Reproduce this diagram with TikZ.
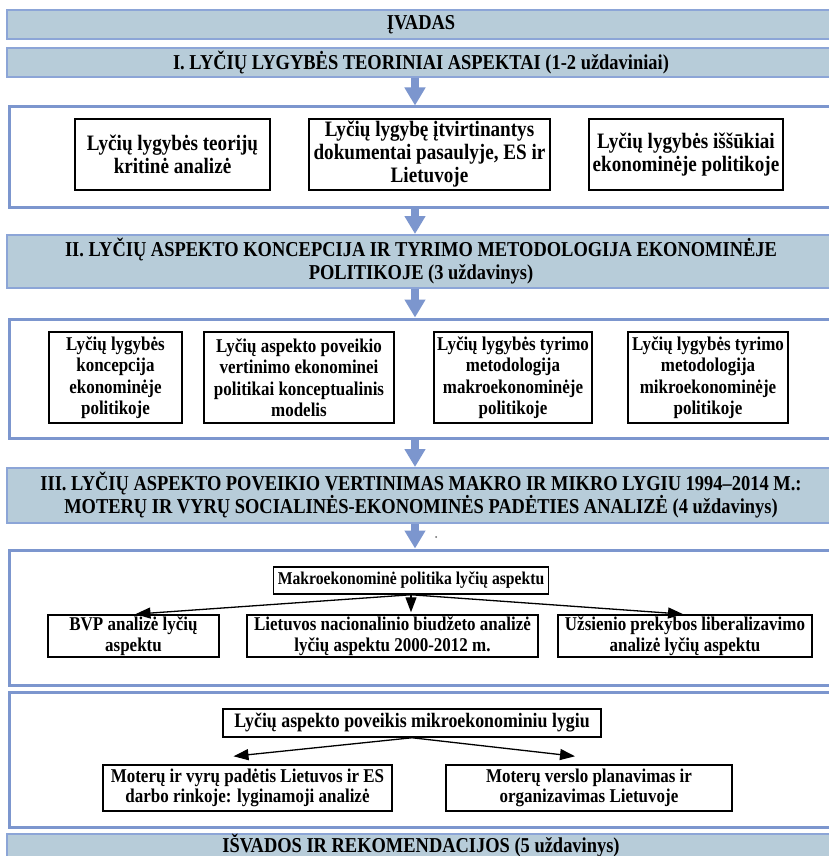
\documentclass[tikz,border=0pt]{standalone}
\usepackage{fontspec}
\setmainfont{Liberation Serif}[FakeStretch=0.87]
\usetikzlibrary{arrows.meta,calc}

\definecolor{bannerfill}{RGB}{183,204,217}
\definecolor{bannerline}{RGB}{140,165,215}
\definecolor{panelline}{RGB}{124,150,206}

\newcommand{\bannerfont}{\fontsize{21.2}{23}\selectfont\bfseries}
\newcommand{\topicfont}{\fontsize{19.5}{20.5}\selectfont\bfseries}
\newcommand{\bigtopicfont}{\fontsize{22}{23}\selectfont\bfseries}

\tikzset{
  banner/.style={draw=bannerline, line width=2pt, fill=bannerfill, font=\bannerfont, align=center, inner sep=0pt, minimum width=828pt},
  panel/.style={draw=panelline, line width=3pt, fill=white, inner sep=0pt, minimum width=825pt},
  topic/.style={draw=black, line width=1.5pt, fill=white, font=\topicfont, align=center, inner sep=0pt},
  bigarrow/.style={draw=panelline, line width=8pt, -{Triangle[width=20pt,length=18pt]}},
  smallarrow/.style={draw=black, line width=1.3pt, -{Triangle[width=11pt,length=15pt]}},
}

\begin{document}
\begin{tikzpicture}[x=1pt,y=1pt,yscale=-1,xscale=1]
\clip (0,0) rectangle (829,856);
\fill[white] (0,0) rectangle (829,856);
\coordinate (mid) at (415,0);

%Shape: Banners
\node[banner, minimum height=29pt] (ivadas) at (421,24.5) {ĮVADAS};
\node[banner, minimum height=29pt] (ban1) at (421,62.5) {I. LYČIŲ LYGYBĖS TEORINIAI ASPEKTAI (1-2 uždaviniai)};
\node[banner, minimum height=53pt] (ban2) at (421,261.5) {II. LYČIŲ ASPEKTO KONCEPCIJA IR TYRIMO METODOLOGIJA EKONOMINĖJE\\POLITIKOJE (3 uždavinys)};
\node[banner, minimum height=55pt] (ban3) at (421,495.5) {III. LYČIŲ ASPEKTO POVEIKIO VERTINIMAS MAKRO IR MIKRO LYGIU 1994–2014 M.:\\MOTERŲ IR VYRŲ SOCIALINĖS-EKONOMINĖS PADĖTIES ANALIZĖ (4 uždavinys)};
\node[banner, minimum height=22pt] (ban4) at (421,845.5) {IŠVADOS IR REKOMENDACIJOS (5 uždavinys)};

%Shape: Panels
\node[panel, minimum height=100pt] (pan1) at (422,157) {};
\node[panel, minimum height=119pt] (pan2) at (422,378.5) {};
\node[panel, minimum height=135pt] (pan3) at (422,617.5) {};
\node[panel, minimum height=135pt] (pan4) at (422,759.5) {};

% Text Node: row 1
\node[topic, font=\bigtopicfont, minimum width=195pt, minimum height=71pt] (t11) at (172.5,154.5) {Lyčių lygybės teorijų\\kritinė analizė};
\node[topic, font=\bigtopicfont, minimum width=241pt, minimum height=71pt] (t12) at (429.5,154.5) {Lyčių lygybę įtvirtinantys\\dokumentai pasaulyje, ES ir\\Lietuvoje};
\node[topic, font=\bigtopicfont, minimum width=194pt, minimum height=71pt] (t13) at (686,154.5) {Lyčių lygybės iššūkiai\\ekonominėje politikoje};

% Text Node: row 2
\tikzset{rowtwo/.style={topic, font=\fontsize{19.5}{21.5}\selectfont\bfseries, minimum height=91pt}}
\node[rowtwo, minimum width=133pt] (t21) at (115.5,377.5) {Lyčių lygybės\\koncepcija\\ekonominėje\\politikoje};
\node[rowtwo, minimum width=190pt] (t22) at (299,377.5) {Lyčių aspekto poveikio\\vertinimo ekonominei\\politikai konceptualinis\\modelis};
\node[rowtwo, minimum width=158pt] (t23) at (513,377.5) {Lyčių lygybės tyrimo\\metodologija\\makroekonominėje\\politikoje};
\node[rowtwo, minimum width=160pt] (t24) at (708,377.5) {Lyčių lygybės tyrimo\\metodologija\\mikroekonominėje\\politikoje};

% Text Node: row 3
\node[topic, font=\fontsize{18}{20}\selectfont\bfseries, minimum width=275pt, minimum height=27pt] (makro) at (411,580.5) {Makroekonominė politika lyčių aspektu};
\node[topic, minimum width=171pt, minimum height=42pt] (t31) at (133.5,636) {BVP analizė lyčių\\aspektu};
\node[topic, minimum width=291pt, minimum height=42pt] (t32) at (392.5,636) {Lietuvos nacionalinio biudžeto analizė\\lyčių aspektu 2000-2012 m.};
\node[topic, minimum width=254pt, minimum height=42pt] (t33) at (685,636) {Užsienio prekybos liberalizavimo\\analizė lyčių aspektu};

% Text Node: row 4
\node[topic, font=\fontsize{20.5}{22}\selectfont\bfseries, minimum width=378pt, minimum height=28pt] (mikro) at (412,723) {Lyčių aspekto poveikis mikroekonominiu lygiu};
\node[topic, minimum width=289pt, minimum height=46pt] (t41) at (247.5,788) {Moterų ir vyrų padėtis Lietuvos ir ES\\darbo rinkoje: lyginamoji analizė};
\node[topic, minimum width=286pt, minimum height=46pt] (t42) at (589,788) {Moterų verslo planavimas ir\\organizavimas Lietuvoje};

%Arrows: blue
\draw[bigarrow] (ban1.south -| mid) -- (pan1.north -| mid);
\draw[bigarrow] (pan1.south -| mid) -- (ban2.north -| mid);
\draw[bigarrow] (ban2.south -| mid) -- (pan2.north -| mid);
\draw[bigarrow] (pan2.south -| mid) -- (ban3.north -| mid);
\draw[bigarrow] (ban3.south -| mid) -- (pan3.north -| mid);

%Arrows: black
\draw[smallarrow, shorten >=2pt] (makro.south) -- (t31.north);
\draw[smallarrow, shorten >=2pt] (makro.south) -- (makro.south |- t32.north);
\draw[smallarrow, shorten >=2pt] (makro.south) -- (t33.north);
\draw[smallarrow] (mikro.south) -- ($(t41.north)+(-14,-8)$);
\draw[smallarrow] (mikro.south) -- ($(t42.north)+(-14,-8)$);

\fill[black!60] (436,537) circle (1pt);
\end{tikzpicture}
\end{document}
